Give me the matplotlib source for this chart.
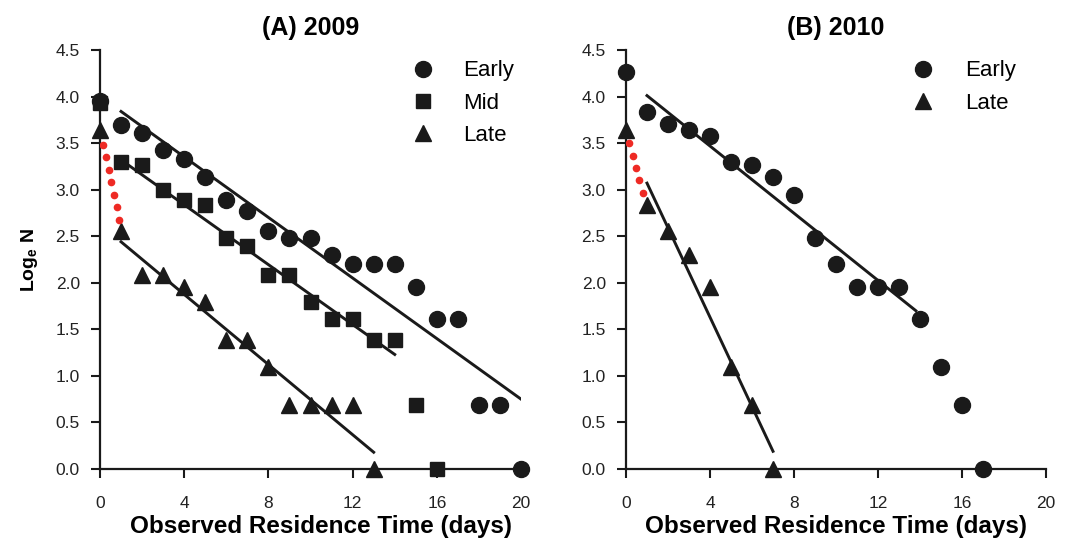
import matplotlib
matplotlib.use('Agg')
import matplotlib.pyplot as plt

plt.rcParams['font.family'] = ['Liberation Sans', 'DejaVu Sans']
plt.rcParams['mathtext.fontset'] = 'custom'
plt.rcParams['mathtext.bf'] = 'Liberation Sans:bold'
plt.rcParams['mathtext.rm'] = 'Liberation Sans'

# (A) 2009 - log counts by day
early_a = [3.95, 3.69, 3.61, 3.43, 3.33, 3.14, 2.89, 2.77, 2.56, 2.48, 2.48,
           2.30, 2.20, 2.20, 2.20, 1.95, 1.61, 1.61, 0.69, 0.69, 0.0]
mid_a = [3.93, 3.30, 3.26, 3.00, 2.89, 2.83, 2.48, 2.40, 2.08, 2.08, 1.79,
         1.61, 1.61, 1.39, 1.39, 0.69, 0.0]
late_a = [3.64, 2.56, 2.08, 2.08, 1.95, 1.79, 1.39, 1.39, 1.10, 0.69, 0.69,
          0.69, 0.69, 0.0]

# (B) 2010
early_b = [4.26, 3.83, 3.71, 3.64, 3.58, 3.30, 3.26, 3.14, 2.94, 2.48, 2.20,
           1.95, 1.95, 1.95, 1.61, 1.10, 0.69, 0.0]
late_b = [3.64, 2.83, 2.56, 2.30, 1.95, 1.10, 0.69, 0.0]

# fitted lines (end points)
fit_a_early = ([1, 20], [3.84, 0.75])
fit_a_mid = ([1, 14], [3.32, 1.23])
fit_a_late = ([1, 13], [2.44, 0.18])
fit_b_early = ([1, 13.8], [4.01, 1.70])
fit_b_late = ([1, 7], [3.07, 0.19])

# red dotted drop between day 0 and day 1 for Late
red_a_x = [0.13, 0.29, 0.41, 0.54, 0.67, 0.79, 0.92]
red_a_y = [3.48, 3.35, 3.21, 3.08, 2.94, 2.81, 2.67]
red_b_x = [0.16, 0.32, 0.48, 0.63, 0.79]
red_b_y = [3.50, 3.36, 3.23, 3.10, 2.96]

xticks = [0, 4, 8, 12, 16, 20]
yticks = [0, 0.5, 1, 1.5, 2, 2.5, 3, 3.5, 4, 4.5]

fig = plt.figure(figsize=(10.73, 5.41), dpi=100)
ax1 = fig.add_axes([0.0932, 0.1331, 0.3924, 0.7745])
ax2 = fig.add_axes([0.5834, 0.1331, 0.3915, 0.7745])


def style(ax, title):
    ax.set_xlim(0, 20)
    ax.set_ylim(0, 4.5)
    ax.set_xticks(xticks)
    ax.set_yticks(yticks)
    ax.set_yticklabels(['%.1f' % v for v in yticks])
    for s in ['top', 'right']:
        ax.spines[s].set_visible(False)
    for s in ['left', 'bottom']:
        ax.spines[s].set_linewidth(1.6)
        ax.spines[s].set_color('#1a1a1a')
    ax.tick_params(axis='both', direction='out', length=6.5, width=1.5,
                   labelsize=12.5, color='#1a1a1a', labelcolor='#222222')
    ax.tick_params(axis='x', pad=13)
    ax.tick_params(axis='y', pad=8)
    ax.set_title(title, fontsize=18, fontweight='bold', pad=11)
    ax.set_xlabel('Observed Residence Time (days)', fontsize=17.5,
                  fontweight='bold', labelpad=3)


mk = dict(color='#1a1a1a', linestyle='none', clip_on=False, zorder=4)
ln = dict(color='#1a1a1a', linewidth=2.1, zorder=3)

ax1.plot(range(len(early_a)), early_a, marker='o', ms=11.5, label='Early', **mk)
ax1.plot(range(len(mid_a)), mid_a, marker='s', ms=10, label='Mid', **mk)
ax1.plot(range(len(late_a)), late_a, marker='^', ms=11, label='Late', **mk)
ax1.plot(*fit_a_early, **ln)
ax1.plot(*fit_a_mid, **ln)
ax1.plot(*fit_a_late, **ln)
ax1.plot(red_a_x, red_a_y, 'o', color='#ee2a24', ms=4.5, zorder=5)
style(ax1, '(A) 2009')
ax1.xaxis.label.set_x(0.525)
ax1.set_ylabel(r'Log$_{\mathbf{e}}$ N', fontsize=14, fontweight='bold',
               labelpad=11)
ax1.legend(loc='upper left', bbox_to_anchor=(0.741, 0.975), frameon=False,
           fontsize=16, handlelength=1, handletextpad=1.3, borderpad=0,
           borderaxespad=0, labelspacing=0.5, numpoints=1)

ax2.plot(range(len(early_b)), early_b, marker='o', ms=11.5, label='Early', **mk)
ax2.plot(range(len(late_b)), late_b, marker='^', ms=11, label='Late', **mk)
ax2.plot(*fit_b_early, **ln)
ax2.plot(*fit_b_late, **ln)
ax2.plot(red_b_x, red_b_y, 'o', color='#ee2a24', ms=4.5, zorder=5)
style(ax2, '(B) 2010')
ax2.legend(loc='upper left', bbox_to_anchor=(0.68, 0.975), frameon=False,
           fontsize=16, handlelength=1, handletextpad=1.4, borderpad=0,
           borderaxespad=0, labelspacing=0.5, numpoints=1)

plt.savefig('out.png', dpi=100)
